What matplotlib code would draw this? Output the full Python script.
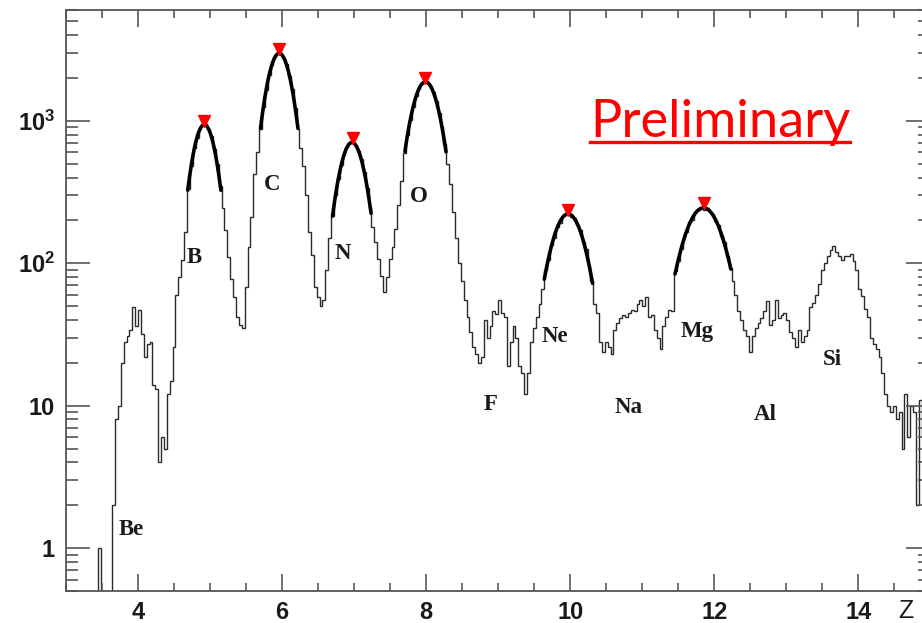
import numpy as np
import matplotlib
matplotlib.use("Agg")
import matplotlib.pyplot as plt
from matplotlib.ticker import FixedLocator, FixedFormatter, LogLocator, NullFormatter, MultipleLocator
from matplotlib.lines import Line2D

# ---- histogram of reconstructed charge Z (bin width 0.04, 3 <= Z < 15) ----
bin_lo = 3.0
bin_width = 0.04
counts = np.array([
    # 3.00 - 3.96
    0, 0, 0, 0, 0, 0, 0, 0, 0, 0, 0, 1, 0, 0, 0, 0, 2, 8, 10, 20, 28, 31, 34, 49, 36,
    # 4.00 - 4.96
    47, 32, 22, 27, 28, 14, 13, 4, 6, 5, 12, 15, 26, 60, 80, 105, 165, 330, 480, 640,
    760, 880, 930, 945, 870,
    # 5.00 - 5.96
    780, 630, 500, 350, 245, 170, 110, 78, 58, 42, 37, 35, 68, 130, 212, 420, 600, 880,
    1260, 1650, 2110, 2480, 2800, 2970, 2940,
    # 6.00 - 6.96
    2780, 2500, 2080, 1680, 1240, 870, 640, 480, 300, 165, 115, 68, 58, 50, 55, 90, 150,
    215, 300, 390, 490, 575, 650, 700, 700,
    # 7.00 - 7.96
    680, 615, 540, 440, 340, 250, 180, 140, 108, 82, 63, 80, 108, 130, 175, 255, 380,
    590, 800, 1020, 1250, 1500, 1670, 1820, 1880,
    # 8.00 - 8.96
    1850, 1760, 1590, 1380, 1140, 900, 690, 500, 360, 230, 150, 100, 75, 55, 42, 33, 26,
    23, 20, 22, 40, 30, 36, 46, 44,
    # 9.00 - 9.96
    55, 45, 42, 19, 28, 36, 30, 19, 17, 12, 17, 28, 35, 42, 52, 66, 90, 105, 135, 150,
    180, 192, 215, 218, 225,
    # 10.00 - 10.96
    212, 208, 185, 170, 142, 125, 96, 75, 52, 45, 28, 24, 28, 26, 23, 34, 38, 41, 43, 42,
    45, 47, 46, 52, 55,
    # 11.00 - 11.96
    50, 58, 42, 43, 34, 30, 25, 36, 42, 47, 46, 88, 104, 125, 150, 165, 195, 200, 228,
    235, 245, 238, 245, 228, 222,
    # 12.00 - 12.96
    198, 185, 155, 140, 112, 92, 75, 60, 46, 40, 34, 31, 24, 31, 35, 38, 41, 46, 54, 37,
    40, 55, 41, 43, 45,
    # 13.00 - 13.96
    40, 33, 30, 26, 34, 28, 31, 34, 49, 53, 60, 72, 90, 100, 112, 124, 132, 120, 112,
    106, 112, 112, 117, 104, 90,
    # 14.00 - 14.96
    66, 59, 48, 42, 30, 27, 25, 22, 17, 12, 10, 9, 10, 8, 9, 5, 12, 6, 10, 9, 2, 11, 6,
    8, 5,
], dtype=float)

# ---- Gaussian fits of the main peaks ----
fit_amp = [940, 2980, 705, 1880, 222, 245]
fit_mean = [4.92, 5.96, 6.97, 7.99, 9.97, 11.85]
fit_sigma = [0.158, 0.167, 0.175, 0.19, 0.227, 0.27]
fit_lo = [4.69, 5.70, 6.70, 7.705, 9.64, 11.455]
fit_hi = [5.15, 6.22, 7.235, 8.276, 10.31, 12.23]

# ---- peak markers found by the peak search ----
peak_z = [4.92, 5.96, 6.98, 7.99, 9.97, 11.86]
peak_counts = [1000, 3200, 757, 2000, 236, 265]

# ---- element labels ----
element_names = ["Be", "B", "C", "N", "O", "F", "Ne", "Na", "Mg", "Al", "Si"]
element_z = [3.903, 4.782, 5.860, 6.839, 7.901, 8.901, 9.789, 10.810, 11.761, 12.712, 13.635]
element_y = [1.24, 99.7, 325.5, 108, 269.6, 9.33, 28.1, 8.84, 30.5, 7.94, 19.3]

# ---- axes ticks ----
x_major = [4, 6, 8, 10, 12, 14]
y_major = [1, 10, 100, 1000]
y_major_labels = ["1", "10", r"$10^{2}$", r"$10^{3}$"]

plt.rcParams["mathtext.fontset"] = "custom"
plt.rcParams["mathtext.rm"] = "Liberation Sans:bold"
plt.rcParams["mathtext.it"] = "Liberation Sans:bold"
plt.rcParams["mathtext.bf"] = "Liberation Sans:bold"

W, H = 922, 623
fig = plt.figure(figsize=(W / 100, H / 100), dpi=100)
fig.patch.set_facecolor("white")

# frame: left edge at px 66, bottom 591, top 10; Z=15 lies just past the right border
x0, x1, ytop, ybot = 66, 930.4, 10, 591
ax = fig.add_axes([x0 / W, 1 - ybot / H, (x1 - x0) / W, (ybot - ytop) / H])

edges = bin_lo + bin_width * np.arange(len(counts) + 1)
draw_counts = np.where(counts > 0, counts, 1e-3)
ax.stairs(draw_counts, edges, color="#2a2a2a", lw=1.0, baseline=None, zorder=1)

for a, m, s, lo, hi in zip(fit_amp, fit_mean, fit_sigma, fit_lo, fit_hi):
    zz = np.linspace(lo, hi, 400)
    ax.plot(zz, a * np.exp(-0.5 * ((zz - m) / s) ** 2), color="black", lw=2.6,
            solid_capstyle="round", solid_joinstyle="round", zorder=3)

ax.plot(peak_z, peak_counts, linestyle="none", marker="v", ms=9, color="red",
        mec="red", zorder=4)

for name, z, y in zip(element_names, element_z, element_y):
    ax.text(z, y, name, ha="center", va="baseline", fontsize=16.5,
            family="Liberation Serif", fontweight="bold", color="#1a1a1a")

ax.set_yscale("log")
ax.set_xlim(3, 15)
ax.set_ylim(0.5, 6000)

ax.xaxis.set_major_locator(FixedLocator(x_major))
ax.xaxis.set_minor_locator(MultipleLocator(0.5))
ax.yaxis.set_major_locator(FixedLocator(y_major))
ax.yaxis.set_major_formatter(FixedFormatter(y_major_labels))
ax.yaxis.set_minor_locator(LogLocator(base=10, subs=np.arange(2, 10)))
ax.yaxis.set_minor_formatter(NullFormatter())

frame_col = "#555555"
for sp in ax.spines.values():
    sp.set_color(frame_col)
    sp.set_linewidth(1.3)

ax.tick_params(which="both", direction="in", top=True, right=True, color=frame_col,
               width=1.2)
ax.tick_params(axis="x", which="major", length=12.2, pad=7)
ax.tick_params(axis="x", which="minor", length=5.5)
ax.tick_params(axis="y", which="major", length=17.5, pad=8)
ax.tick_params(axis="y", which="minor", length=8.5)
for lab in ax.get_xticklabels() + ax.get_yticklabels():
    lab.set_fontfamily("Liberation Sans")
    lab.set_fontweight("bold")
    lab.set_fontsize(17)
    lab.set_color("#1a1a1a")

fig.text(906 / W, 1 - 618 / H, "Z", ha="center", va="baseline", fontsize=18,
         family="Liberation Sans", color="#1a1a1a")

# red "Preliminary" stamp with underline
prelim = fig.text(590 / W, 1 - 137 / H, "Preliminary", ha="left", va="baseline",
                  fontsize=37, family="Lato", color="red")
fig.canvas.draw()
bb = prelim.get_window_extent()
prelim.set_fontsize(37 * 260 / bb.width)
fig.canvas.draw()
bb = prelim.get_window_extent()
fig.add_artist(Line2D([bb.x0 / W, bb.x1 / W], [1 - 142 / H, 1 - 142 / H],
                      transform=fig.transFigure, color="red", lw=2.4))

fig.savefig("out.png", dpi=100)
